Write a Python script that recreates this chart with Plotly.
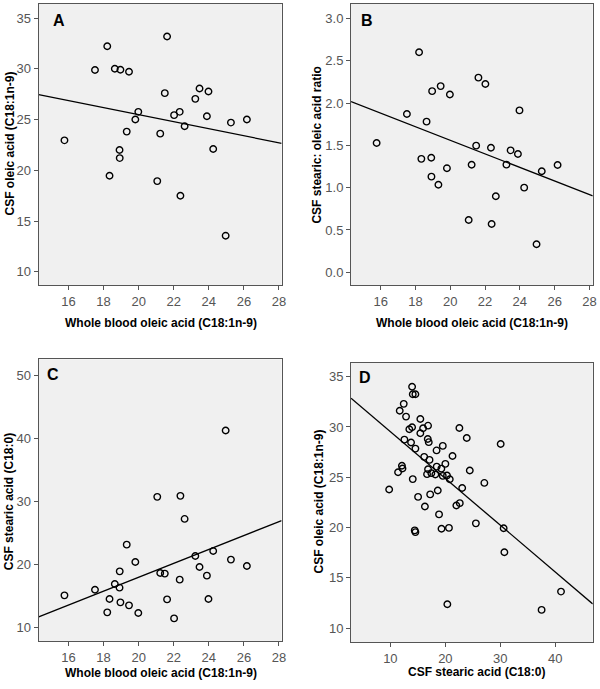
import numpy as np
import plotly.graph_objects as go

# ---- Data: panels A, B, C share the whole-blood oleic acid values ----
blood_oleic = [15.77, 17.51, 18.21, 18.64, 18.96, 19.45, 18.34, 18.91, 18.92, 19.32,
               19.81, 19.98, 21.62, 21.49, 21.23, 21.06, 22.02, 22.34, 22.38, 22.62,
               23.23, 23.47, 23.98, 23.89, 24.25, 24.96, 25.26, 26.17]
csf_oleic_A = [22.96, 29.89, 32.23, 30.02, 29.92, 29.72, 19.47, 22.00, 21.21, 23.82,
               25.01, 25.77, 33.19, 27.61, 23.62, 18.94, 25.44, 25.77, 17.49, 24.35,
               27.05, 28.07, 27.78, 25.34, 22.10, 13.56, 24.71, 25.01]
ratio_B = [1.528, 1.87, 2.60, 1.78, 2.14, 2.20, 1.34, 1.354, 1.13, 1.035,
           1.23, 2.10, 2.30, 1.496, 1.27, 0.618, 2.224, 1.472, 0.571, 0.898,
           1.272, 1.441, 1.913, 1.398, 1.00, 0.331, 1.193, 1.268]
csf_stearic_C = [15.14, 16.04, 12.44, 16.94, 14.03, 13.55, 14.56, 16.36, 18.95, 23.19,
                 20.44, 12.33, 14.50, 18.59, 18.69, 30.77, 11.48, 17.63, 30.93, 27.27,
                 21.39, 19.64, 14.56, 18.27, 22.19, 41.31, 20.81, 19.80]

# ---- Panel D: CSF stearic vs CSF oleic ----
csf_stearic_D = [13.95, 14.07, 14.55, 12.43, 11.70, 12.85, 15.45, 16.85, 15.95, 13.95,
                 13.45, 15.45, 16.80, 16.98, 12.55, 13.76, 14.55, 19.53, 18.40, 16.15,
                 17.12, 21.30, 22.55, 23.89, 30.06, 12.10, 12.20, 11.40, 14.07, 16.85,
                 16.67, 18.43, 20.00, 19.27, 17.45, 18.18, 19.53, 20.30, 20.80, 24.44,
                 23.06, 27.09, 9.78, 15.04, 17.24, 18.62, 16.28, 18.85, 22.00, 22.62,
                 14.43, 14.55, 19.30, 20.65, 25.55, 30.60, 30.73, 20.36, 37.50, 41.03]
csf_oleic_D = [34.00, 33.25, 33.25, 32.30, 31.62, 31.03, 30.80, 30.13, 29.87, 29.97,
               29.78, 29.38, 28.81, 28.49, 28.74, 28.45, 27.85, 28.12, 27.67, 27.03,
               26.73, 27.12, 29.90, 28.91, 28.31, 26.14, 25.88, 25.50, 24.82, 25.80,
               25.31, 26.06, 26.33, 25.86, 25.41, 25.27, 25.14, 25.17, 24.80, 25.67,
               23.93, 24.44, 23.78, 23.05, 23.30, 23.68, 22.09, 21.31, 22.19, 22.43,
               19.72, 19.55, 19.88, 19.97, 20.42, 19.93, 17.55, 12.38, 11.82, 13.64]

x_ticks_blood = [16, 18, 20, 22, 24, 26, 28]
x_ticks_D = [10, 20, 30, 40]
y_ticks_A = [10, 15, 20, 25, 30, 35]
y_ticks_B = [0.0, 0.5, 1.0, 1.5, 2.0, 2.5, 3.0]
y_ticks_C = [10, 20, 30, 40, 50]
y_ticks_D = [10, 15, 20, 25, 30, 35]

FONT = "Liberation Sans, Arial, sans-serif"
BG = "#f0f0f0"
FRAME = "#555555"

panels = [
    dict(x=blood_oleic, y=csf_oleic_A, xa="x", ya="y", xr=[14.3, 28.15], yr=[8.7, 36.4],
         xt=x_ticks_blood, yt=y_ticks_A, yfmt="d",
         xdom=[0.065, 0.4733], ydom=[0.5864, 0.9942]),
    dict(x=blood_oleic, y=ratio_B, xa="x2", ya="y2", xr=[14.3, 28.19], yr=[-0.15, 3.17],
         xt=x_ticks_blood, yt=y_ticks_B, yfmt=".1f",
         xdom=[0.59, 0.9962], ydom=[0.5864, 0.9942]),
    dict(x=blood_oleic, y=csf_stearic_C, xa="x3", ya="y3", xr=[14.3, 28.15], yr=[7.9, 52.6],
         xt=x_ticks_blood, yt=y_ticks_C, yfmt="d",
         xdom=[0.065, 0.4733], ydom=[0.0697, 0.4785]),
    dict(x=csf_stearic_D, y=csf_oleic_D, xa="x4", ya="y4", xr=[2.85, 46.8], yr=[8.6, 36.39],
         xt=x_ticks_D, yt=y_ticks_D, yfmt="d",
         xdom=[0.59, 0.9962], ydom=[0.0678, 0.4736]),
]

fig = go.Figure()
layout = {}
for i, p in enumerate(panels):
    xs = np.array(p["x"], dtype=float)
    ys = np.array(p["y"], dtype=float)
    slope, icpt = np.polyfit(xs, ys, 1)
    lx = np.array(p["xr"])
    fig.add_trace(go.Scatter(x=lx, y=slope * lx + icpt, mode="lines",
                             line=dict(color="black", width=1.3),
                             xaxis=p["xa"], yaxis=p["ya"], showlegend=False,
                             hoverinfo="skip"))
    fig.add_trace(go.Scatter(x=xs, y=ys, mode="markers",
                             marker=dict(symbol="circle", size=6.5, color="rgba(0,0,0,0)",
                                         line=dict(color="black", width=1.4)),
                             xaxis=p["xa"], yaxis=p["ya"], showlegend=False))
    sfx = "" if i == 0 else str(i + 1)
    common = dict(showline=True, linecolor=FRAME, linewidth=1, mirror=True,
                  ticks="outside", ticklen=4, tickcolor=FRAME, showgrid=False,
                  zeroline=False, tickfont=dict(family=FONT, size=13, color="#555555"))
    layout["xaxis" + sfx] = dict(domain=p["xdom"], range=p["xr"], tickvals=p["xt"],
                                 anchor="y" + sfx, **common)
    layout["yaxis" + sfx] = dict(domain=p["ydom"], range=p["yr"], tickvals=p["yt"],
                                 tickformat=p["yfmt"], anchor="x" + sfx, **common)

annos = []
def txt(text, x, y, size=12, angle=0):
    annos.append(dict(text="<b>%s</b>" % text, x=x, y=y, xref="paper", yref="paper",
                      xanchor="center", yanchor="middle", showarrow=False,
                      textangle=angle, font=dict(family=FONT, size=size, color="black")))

xt_label = "Whole blood oleic acid (C18:1n-9)"
txt(xt_label, 0.2708, 0.5316)
txt(xt_label, 0.793, 0.5316)
txt(xt_label, 0.2708, 0.0228)
txt("CSF stearic acid (C18:0)", 0.80, 0.0251)
txt("CSF oleic acid (C18:1n-9)", 0.016, 0.791, angle=-90)
txt("CSF stearic: oleic acid ratio", 0.532, 0.7895, angle=-90)
txt("CSF stearic acid (C18:0)", 0.0155, 0.2714, angle=-90)
txt("CSF oleic acid (C18:1n-9)", 0.536, 0.272, angle=-90)
txt("A", 59.3 / 600, 1 - 20.7 / 689, size=16)
txt("B", 370 / 600, 1 - 20.7 / 689, size=16)
txt("C", 53.3 / 600, 1 - 374.3 / 689, size=16)
txt("D", 368.3 / 600, 1 - 377.7 / 689, size=16)

fig.update_layout(width=600, height=689, margin=dict(l=0, r=0, t=0, b=0),
                  paper_bgcolor="white", plot_bgcolor=BG, annotations=annos,
                  font=dict(family=FONT), **layout)
fig.write_html("out.html", config={"displayModeBar": False},
               post_script="document.body.style.margin='0';document.body.style.overflow='hidden';")
